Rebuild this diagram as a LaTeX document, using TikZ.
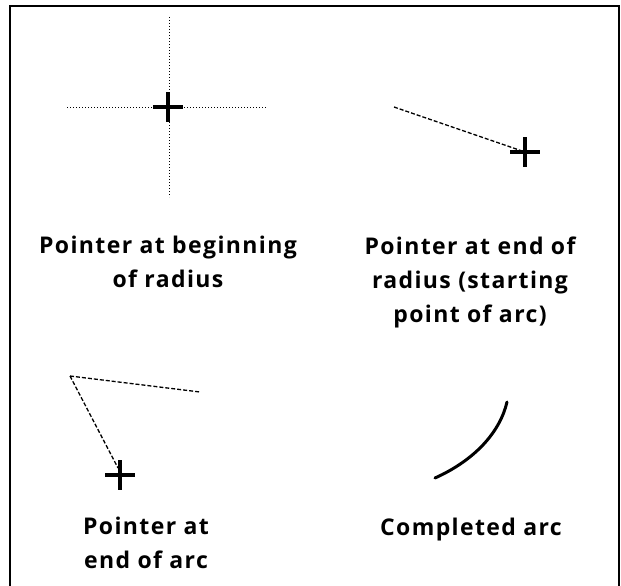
\documentclass[tikz,border=0pt]{standalone}
\usepackage{fontspec}
\setmainfont{Open Sans}
\usetikzlibrary{calc}

\begin{document}
\begin{tikzpicture}[x=1pt, y=-1pt,
  guide/.style={line width=1pt, dash pattern=on 1pt off 2pt},
  radiusline/.style={line width=1.3pt, dash pattern=on 4pt off 2pt},
  caption/.style={font=\fontsize{23}{34}\selectfont\bfseries\addfontfeature{LetterSpace=6}, align=center, inner sep=0pt, anchor=base},
  pointer/.pic={\draw[line width=3.5pt] (-15,0) -- (15,0) (0,-15) -- (0,15);}]
  \useasboundingbox (0,0) rectangle (621,586);

  % Frame (open at the bottom edge of the page)
  \draw[line width=2.5pt] (10,600) -- (10,6) -- (619,6) -- (619,600);

  % Pointer at beginning of radius: dotted guides through the pointer
  \coordinate (start) at (168,107);
  \coordinate (guideW) at (67,107);
  \coordinate (guideE) at (267,107);
  \coordinate (guideN) at (169,17);
  \coordinate (guideS) at (169,197);
  \draw[guide] (guideW) -- (guideE);
  \draw[guide] (guideN) -- (guideS);
  \pic at (start) {pointer};
  % base anchor sits on the last line
  \node[caption] (capA) at (168,287) {Pointer at beginning\\of radius};

  % Pointer at end of radius
  \coordinate (radA) at (394,107);
  \coordinate (radB) at (525,152);
  \draw[radiusline] (radA) -- (radB);
  \pic at (radB) {pointer};
  \node[caption] (capB) at (470,322) {Pointer at end of\\radius (starting\\point of arc)};

  % Pointer at end of arc
  \coordinate (apex) at (70,376);
  \coordinate (radEnd) at (200,392);
  \coordinate (arcEnd) at (118,468);
  \draw[radiusline] (apex) -- (radEnd);
  \draw[radiusline] (apex) -- (arcEnd);
  \pic at (120,475) {pointer};
  \node[caption] (capC) at (146,568) {Pointer at\\end of arc};

  % Completed arc
  \coordinate (arcA) at (435,478);
  \coordinate (arcB) at (507,402);
  \draw[line width=3pt, line cap=round] (arcA) .. controls (475,460) and (500,432) .. (arcB);
  \node[caption] (capD) at (471,535) {Completed arc};
\end{tikzpicture}
\end{document}
